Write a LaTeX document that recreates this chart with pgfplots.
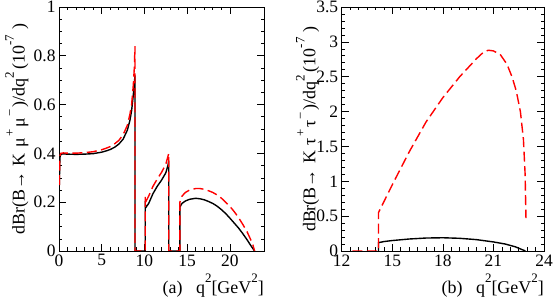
\documentclass[border=0pt]{standalone}
\usepackage{fontspec}
\setmainfont{Liberation Serif}
\usepackage{pgfplots}
\pgfplotsset{compat=1.18}
\newcommand{\sps}[1]{\raisebox{0.6em}{\fontsize{13}{13}\selectfont #1}}
\begin{document}
\begin{tikzpicture}
\path[use as bounding box] (0,0) rectangle (554bp,302bp);
\pgfplotsset{
  rootstyle/.style={
    scale only axis, height=244bp,
    axis line style={line width=0.8pt},
    tick pos=both, tick align=inside,
    major tick length=7bp, minor tick length=3.5bp,
    every tick/.style={black, line width=0.6pt},
    /pgf/number format/assume math mode=true,
    tick label style={font=\fontsize{17.5}{19}\selectfont},
    label style={font=\fontsize{18}{20}\selectfont},
    xlabel style={at={(axis description cs:1,0)}, anchor=base east, inner sep=0pt, yshift=-42bp},
    ymin=0,
  }
}
\begin{axis}[rootstyle, at={(59bp,51bp)}, anchor=south west, width=205bp,
  xmin=0, xmax=24, ymax=1,
  xtick={0,5,10,15,20}, minor x tick num=4,
  ytick={0,0.2,0.4,0.6,0.8,1}, minor y tick num=3,
  yticklabels={0,0.2,0.4,0.6,0.8,1},
  xlabel={(a)\hspace{0.75em}q\sps{2}[GeV\sps{2}]},
  ylabel={dBr(B→\hspace{0.3em}K\hspace{0.3em}μ\hspace{0.1em}\sps{+}\hspace{0.1em}μ\hspace{0.05em}\sps{−}\hspace{0.1em})/dq\sps{2}\hspace{0.15em}(10\sps{-7}\hspace{0.3em})},
  ylabel style={at={(axis description cs:-0.205,0.5)}, anchor=center, inner sep=0pt},
]
\addplot[black, line width=1.4pt] coordinates {
(0.045,0.27) (0.08,0.35) (0.12,0.385) (0.2,0.395) (0.4,0.398) (1,0.397) (2,0.396) (3,0.397) (4,0.399) (4.5,0.402) (5,0.405) (5.5,0.41) (6,0.416) (6.5,0.425) (7,0.438) (7.5,0.458) (8,0.495) (8.3,0.535) (8.5,0.575) (8.7,0.64) (8.8,0.68) (8.9,0.72)
(8.9,0) (10.1,0)
(10.1,0.19) (10.2,0.18) (10.5,0.195) (11,0.235) (11.5,0.265) (12,0.29) (12.5,0.32) (12.75,0.35) (12.85,0.37)
(12.85,0) (14.15,0)
(14.15,0.18) (14.4,0.195) (14.8,0.205) (15.3,0.212) (16,0.216) (16.5,0.214) (17,0.21) (17.5,0.203) (18,0.195) (18.5,0.184) (19,0.17) (19.5,0.154) (20,0.135) (20.5,0.115) (21,0.095) (21.5,0.072) (22,0.047) (22.5,0.02) (22.9,0)
};
\addplot[red, line width=1.4pt, dash pattern=on 10bp off 4.5bp] coordinates {
(0.045,0.27) (0.08,0.36) (0.12,0.39) (0.2,0.4) (0.5,0.402) (1,0.401) (2,0.401) (3,0.403) (4,0.407) (4.5,0.411) (5,0.415) (5.5,0.421) (6,0.428) (6.5,0.439) (7,0.453) (7.5,0.476) (8,0.515) (8.3,0.56) (8.5,0.6) (8.7,0.68) (8.8,0.74) (8.9,0.84)
(8.9,0) (10.1,0)
(10.1,0.225) (10.2,0.205) (10.5,0.225) (11,0.265) (11.5,0.295) (12,0.322) (12.5,0.355) (12.85,0.40)
(12.85,0) (14.15,0)
(14.15,0.2) (14.4,0.225) (14.8,0.24) (15.3,0.25) (16,0.256) (16.5,0.256) (17,0.253) (17.5,0.247) (18,0.24) (18.5,0.23) (19,0.217) (19.5,0.2) (20,0.183) (20.5,0.162) (21,0.138) (21.5,0.11) (22,0.08) (22.4,0.05) (22.7,0.025) (22.9,0)
};
\end{axis}
\begin{axis}[rootstyle, at={(341.7bp,51bp)}, anchor=south west, width=202.3bp,
  xmin=12, xmax=24, ymax=3.5,
  xtick={12,15,18,21,24}, minor x tick num=5,
  ytick={0,0.5,1,1.5,2,2.5,3,3.5}, minor y tick num=4,
  yticklabels={0,0.5,1,1.5,2,2.5,3,3.5},
  xlabel={(b)\hspace{0.75em}q\sps{2}[GeV\sps{2}]},
  ylabel={dBr(B→\hspace{0.3em}K\hspace{0.3em}τ\hspace{0.1em}\sps{+}\hspace{0.1em}τ\hspace{0.05em}\sps{−}\hspace{0.1em})/dq\sps{2}\hspace{0.15em}(10\sps{-7}\hspace{0.3em})},
  ylabel style={at={(axis description cs:-0.168,0.5)}, anchor=center, inner sep=0pt},
]
\addplot[black, line width=1.4pt] coordinates {
(14.18,0) (14.18,0.12) (14.5,0.135) (15,0.15) (16,0.172) (17,0.186) (18,0.19) (19,0.182) (20,0.163) (21,0.13) (21.7,0.1) (22.3,0.06) (22.9,0)
};
\addplot[red, line width=1.4pt, dash pattern=on 10bp off 4.5bp] coordinates {
(12.63,0) (14.18,0) (14.18,0.55) (15,0.95) (16,1.42) (17,1.85) (18,2.2) (18.5,2.35) (19,2.5) (19.5,2.63) (20,2.76) (20.4,2.85) (20.7,2.88) (21,2.87) (21.4,2.82) (21.8,2.68) (22.1,2.5) (22.35,2.3) (22.6,2.0) (22.78,1.6) (22.88,1.1) (22.93,0.47)
};
\end{axis}
\end{tikzpicture}
\end{document}
